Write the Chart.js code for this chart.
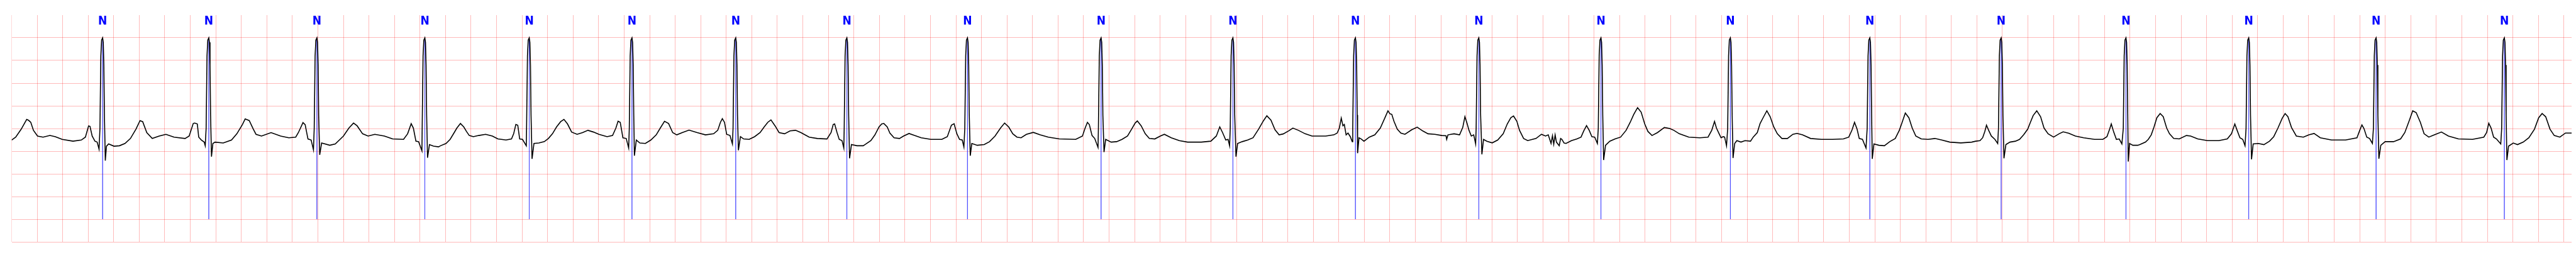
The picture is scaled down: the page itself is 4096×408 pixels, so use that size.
<!DOCTYPE html>
<html>
<head>
<meta charset="utf-8">
<script src="https://cdn.jsdelivr.net/npm/chart.js@4.4.1/dist/chart.umd.min.js"></script>
<style>
  html, body { margin: 0; padding: 0; background: #fff; }
  #wrap { width: 4096px; height: 408px; }
</style>
</head>
<body>
<div id="wrap"><canvas id="ecgChart" width="4096" height="408"></canvas></div>
<script>
// annotated beats (seconds) and their labels
const rPeakTimes = [0.713, 1.545, 2.392, 3.238, 4.056, 4.861, 5.674, 6.545, 7.490, 8.537, 9.570,
    10.530, 11.497, 12.454, 13.468, 14.561, 15.590, 16.568, 17.530, 18.528, 19.533];
const beatLabels = rPeakTimes.map(() => 'N');

// shape of the R spike around each annotation: [dt s, mV]
const qrsShape = [[-0.021, 0.0], [-0.014, 1.6], [-0.008, 1.95], [0, 2.0], [0.005, 1.9], [0.0096, 1.4], [0.014, 0.3]];

// ECG trace read from the strip: [time s, mV] (P, Q, S, T and baseline points)
const ecgTrace = [
    [0.000,-0.254],[0.032,-0.19],[0.075,-0.015],[0.118,0.20],[0.133,0.18],[0.150,0.136],[0.171,-0.04],[0.203,-0.166],[0.246,-0.19],[0.300,-0.154],[0.342,-0.18],[0.396,-0.24],[0.481,-0.28],[0.546,-0.254],[0.578,-0.19],[0.603,0.055],[0.614,0.048],[0.631,-0.166],[0.653,-0.28],[0.670,-0.30],[0.685,-0.456],
    [0.734,-0.708],[0.743,-0.39],[0.760,-0.34],[0.802,-0.39],[0.845,-0.38],[0.888,-0.33],[0.931,-0.22],[0.974,-0.015],[1.006,0.174],[1.027,0.15],[1.059,-0.09],[1.102,-0.22],[1.156,-0.166],[1.209,-0.128],[1.273,-0.19],[1.359,-0.22],[1.391,-0.166],[1.423,0.11],[1.434,0.12],[1.455,0.10],[1.466,-0.19],[1.487,-0.254],[1.509,-0.30],[1.517,-0.38],
    [1.566,-0.62],[1.577,-0.33],[1.594,-0.30],[1.658,-0.32],[1.723,-0.254],[1.765,-0.116],[1.808,0.086],[1.830,0.21],[1.862,0.174],[1.894,-0.015],[1.915,-0.128],[1.958,-0.166],[2.033,-0.09],[2.108,-0.166],[2.172,-0.204],[2.226,-0.19],[2.247,-0.09],[2.283,0.13],[2.300,0.086],[2.322,-0.23],[2.347,-0.254],[2.365,-0.47],
    [2.414,-0.58],[2.429,-0.32],[2.493,-0.37],[2.536,-0.34],[2.600,-0.166],[2.643,0.01],[2.679,0.12],[2.707,0.06],[2.750,-0.116],[2.793,-0.166],[2.846,-0.128],[2.921,-0.166],[2.985,-0.23],[3.071,-0.24],[3.103,-0.116],[3.131,0.106],[3.148,0.01],[3.168,-0.28],[3.189,-0.29],[3.215,-0.49],
    [3.259,-0.645],[3.274,-0.355],[3.306,-0.39],[3.345,-0.405],[3.361,-0.38],[3.404,-0.33],[3.436,-0.24],[3.468,-0.09],[3.489,0.01],[3.517,0.11],[3.543,0.035],[3.564,-0.065],[3.586,-0.154],[3.618,-0.18],[3.660,-0.154],[3.714,-0.128],[3.767,-0.166],[3.810,-0.23],[3.874,-0.254],[3.917,-0.23],[3.934,-0.116],[3.951,0.09],[3.966,0.073],[3.981,-0.23],[4.003,-0.24],[4.033,-0.38],
    [4.078,-0.67],[4.093,-0.33],[4.131,-0.32],[4.174,-0.29],[4.206,-0.22],[4.238,-0.116],[4.270,0.035],[4.302,0.15],[4.328,0.20],[4.356,0.10],[4.388,-0.078],[4.431,-0.128],[4.474,-0.09],[4.516,-0.04],[4.559,-0.078],[4.602,-0.128],[4.666,-0.18],[4.709,-0.154],[4.735,0.01],[4.752,0.16],[4.769,0.136],[4.790,-0.205],[4.816,-0.22],[4.835,-0.43],
    [4.880,-0.60],[4.895,-0.254],[4.923,-0.32],[4.966,-0.33],[5.009,-0.254],[5.051,-0.14],[5.083,0.01],[5.116,0.16],[5.148,0.11],[5.180,-0.09],[5.212,-0.14],[5.255,-0.09],[5.308,-0.035],[5.372,-0.09],[5.437,-0.14],[5.501,-0.116],[5.533,-0.04],[5.554,0.136],[5.569,0.217],[5.586,0.136],[5.603,-0.128],[5.629,-0.154],[5.648,-0.34],
    [5.695,-0.48],[5.711,-0.18],[5.736,-0.23],[5.779,-0.24],[5.822,-0.18],[5.865,-0.09],[5.897,0.035],[5.925,0.136],[5.950,0.19],[5.982,0.06],[6.014,-0.09],[6.057,-0.116],[6.100,-0.053],[6.143,-0.04],[6.185,-0.09],[6.250,-0.19],[6.314,-0.22],[6.389,-0.23],[6.421,-0.09],[6.438,0.09],[6.449,0.10],[6.468,-0.09],[6.485,-0.24],[6.507,-0.267],[6.521,-0.43],
    [6.566,-0.657],[6.581,-0.355],[6.624,-0.38],[6.673,-0.38],[6.690,-0.35],[6.733,-0.267],[6.765,-0.14],[6.797,0.035],[6.818,0.10],[6.835,0.11],[6.861,0.035],[6.882,-0.10],[6.915,-0.204],[6.957,-0.22],[6.989,-0.166],[7.032,-0.11],[7.075,-0.154],[7.128,-0.204],[7.203,-0.24],[7.289,-0.24],[7.332,-0.18],[7.364,0.073],[7.385,0.106],[7.407,-0.116],[7.428,-0.24],[7.449,-0.254],[7.462,-0.405],
    [7.512,-0.60],[7.524,-0.33],[7.567,-0.37],[7.621,-0.355],[7.663,-0.29],[7.706,-0.166],[7.749,0.01],[7.781,0.12],[7.813,0.035],[7.845,-0.116],[7.878,-0.19],[7.910,-0.204],[7.952,-0.128],[8.006,-0.086],[8.059,-0.14],[8.124,-0.19],[8.209,-0.23],[8.338,-0.24],[8.391,-0.166],[8.412,0.01],[8.430,0.136],[8.445,0.086],[8.466,-0.154],[8.487,-0.22],[8.513,-0.418],
    [8.560,-0.52],[8.573,-0.24],[8.616,-0.30],[8.659,-0.29],[8.701,-0.24],[8.744,-0.166],[8.776,-0.015],[8.804,0.12],[8.821,0.166],[8.851,0.06],[8.883,-0.116],[8.915,-0.22],[8.958,-0.23],[9.001,-0.166],[9.033,-0.128],[9.087,-0.204],[9.150,-0.267],[9.215,-0.30],[9.322,-0.30],[9.397,-0.28],[9.440,-0.166],[9.467,0.035],[9.489,-0.09],[9.514,-0.254],[9.532,-0.24],[9.544,-0.38],
    [9.594,-0.62],[9.607,-0.33],[9.643,-0.29],[9.686,-0.254],[9.728,-0.204],[9.771,-0.015],[9.810,0.174],[9.836,0.28],[9.868,0.186],[9.900,-0.028],[9.932,-0.14],[9.964,-0.12],[10.008,-0.05],[10.040,0.01],[10.083,-0.04],[10.136,-0.116],[10.190,-0.166],[10.297,-0.166],[10.361,-0.14],[10.387,-0.10],[10.404,0.01],[10.419,0.23],[10.432,0.06],[10.443,0.09],[10.457,-0.14],[10.472,-0.10],[10.490,-0.18],[10.505,-0.29],
    [10.547,-0.544],[10.558,-0.204],[10.575,-0.23],[10.597,-0.28],[10.639,-0.19],[10.682,-0.14],[10.725,0.01],[10.757,0.21],[10.785,0.39],[10.800,0.325],[10.815,0.312],[10.832,0.16],[10.858,-0.015],[10.886,-0.10],[10.918,-0.128],[10.971,-0.028],[11.014,0.03],[11.057,-0.053],[11.099,-0.116],[11.153,-0.128],[11.207,-0.154],[11.240,-0.16],[11.245,-0.24],[11.255,-0.14],[11.303,-0.116],[11.346,-0.14],[11.371,0.023],[11.388,0.26],[11.405,0.11],[11.420,-0.04],[11.438,-0.166],[11.457,-0.14],[11.472,-0.34],
    [11.521,-0.57],[11.534,-0.24],[11.560,-0.28],[11.602,-0.317],[11.645,-0.254],[11.688,-0.116],[11.720,0.10],[11.748,0.237],[11.769,0.275],[11.795,0.16],[11.816,-0.04],[11.848,-0.22],[11.880,-0.267],[11.945,-0.22],[11.988,-0.128],[12.020,-0.166],[12.041,-0.14],[12.063,-0.33],[12.074,-0.16],[12.084,-0.345],[12.095,-0.14],[12.105,-0.30],[12.127,-0.38],[12.138,-0.22],[12.148,-0.24],[12.165,-0.32],[12.180,-0.33],[12.223,-0.267],[12.266,-0.23],[12.298,-0.19],[12.319,-0.053],[12.341,0.065],[12.362,-0.04],[12.383,-0.18],[12.405,-0.19],[12.426,-0.33],
    [12.475,-0.695],[12.490,-0.37],[12.523,-0.28],[12.565,-0.23],[12.608,-0.19],[12.651,-0.04],[12.683,0.136],[12.711,0.31],[12.741,0.46],[12.769,0.36],[12.797,0.10],[12.822,-0.065],[12.854,-0.154],[12.897,-0.09],[12.951,0.023],[12.993,0.0],[13.025,-0.04],[13.068,-0.116],[13.143,-0.19],[13.229,-0.204],[13.293,-0.19],[13.322,-0.04],[13.344,0.156],[13.359,0.01],[13.380,-0.116],[13.395,-0.204],[13.412,-0.18],[13.423,-0.19],[13.438,-0.38],
    [13.489,-0.65],[13.502,-0.33],[13.519,-0.267],[13.551,-0.30],[13.583,-0.267],[13.626,-0.28],[13.647,-0.19],[13.679,-0.09],[13.701,0.11],[13.727,0.25],[13.754,0.39],[13.780,0.26],[13.808,0.035],[13.836,-0.116],[13.872,-0.22],[13.915,-0.22],[13.958,-0.128],[13.990,-0.108],[14.033,-0.14],[14.097,-0.22],[14.182,-0.24],[14.268,-0.24],[14.354,-0.23],[14.396,-0.19],[14.422,-0.028],[14.441,0.136],[14.461,-0.015],[14.478,-0.22],[14.503,-0.24],[14.531,-0.43],
    [14.580,-0.67],[14.593,-0.34],[14.632,-0.37],[14.675,-0.38],[14.717,-0.29],[14.760,-0.22],[14.792,-0.04],[14.814,0.136],[14.839,0.34],[14.867,0.237],[14.893,0.01],[14.921,-0.166],[14.964,-0.23],[15.017,-0.24],[15.071,-0.22],[15.124,-0.254],[15.188,-0.30],[15.274,-0.317],[15.359,-0.30],[15.391,-0.28],[15.424,-0.267],[15.445,-0.204],[15.462,-0.065],[15.475,0.073],[15.492,-0.04],[15.513,-0.166],[15.541,-0.24],[15.563,-0.33],
    [15.612,-0.657],[15.627,-0.355],[15.659,-0.30],[15.702,-0.28],[15.734,-0.24],[15.766,-0.14],[15.798,-0.015],[15.819,0.136],[15.841,0.287],[15.869,0.39],[15.899,0.26],[15.926,0.01],[15.958,-0.116],[16.001,-0.19],[16.044,-0.116],[16.076,-0.073],[16.119,-0.104],[16.172,-0.166],[16.237,-0.204],[16.322,-0.24],[16.387,-0.24],[16.419,-0.18],[16.440,-0.015],[16.453,0.10],[16.472,-0.078],[16.493,-0.24],[16.515,-0.23],[16.536,-0.34],
    [16.586,-0.73],[16.596,-0.33],[16.622,-0.37],[16.660,-0.37],[16.677,-0.355],[16.721,-0.30],[16.743,-0.24],[16.766,-0.14],[16.788,0.035],[16.810,0.237],[16.836,0.33],[16.860,0.26],[16.887,0.01],[16.909,-0.116],[16.942,-0.22],[16.986,-0.23],[17.042,-0.154],[17.075,-0.166],[17.130,-0.23],[17.207,-0.267],[17.296,-0.267],[17.362,-0.23],[17.395,-0.116],[17.421,0.10],[17.439,-0.04],[17.461,-0.204],[17.483,-0.24],[17.501,-0.38],
    [17.552,-0.68],[17.565,-0.34],[17.605,-0.33],[17.649,-0.355],[17.693,-0.28],[17.726,-0.18],[17.759,0.01],[17.792,0.224],[17.815,0.33],[17.837,0.26],[17.865,0.023],[17.903,-0.166],[17.958,-0.19],[18.002,-0.14],[18.042,-0.11],[18.091,-0.204],[18.179,-0.254],[18.289,-0.254],[18.378,-0.204],[18.400,-0.04],[18.417,0.08],[18.433,0.0],[18.455,-0.19],[18.477,-0.22],[18.499,-0.33],
    [18.550,-0.665],[18.565,-0.37],[18.599,-0.29],[18.665,-0.29],[18.720,-0.23],[18.753,-0.09],[18.786,0.16],[18.815,0.39],[18.842,0.35],[18.875,0.136],[18.904,-0.116],[18.941,-0.19],[18.985,-0.14],[19.040,-0.078],[19.095,-0.166],[19.173,-0.23],[19.283,-0.24],[19.372,-0.19],[19.394,-0.09],[19.411,0.116],[19.429,0.01],[19.449,-0.19],[19.471,-0.23],[19.505,-0.34],
    [19.553,-0.695],[19.566,-0.39],[19.603,-0.32],[19.636,-0.355],[19.681,-0.30],[19.725,-0.204],[19.769,-0.015],[19.802,0.237],[19.829,0.33],[19.857,0.26],[19.891,-0.015],[19.924,-0.154],[19.968,-0.19],[20.012,-0.10],[20.060,-0.10]
];

// axis ranges / grid steps (s, mV)
const xRange = [0, 20.06];
const xStep = 0.2;
const yRange = [-2.5, 2.5];
const yStep = 0.5;
const markerSpan = [2.0, -2.0];   // blue annotation line extent
const labelLevel = 2.296;         // baseline of the "N" text

// merge the trace with an R spike at every annotation
const ecgPoints = ecgTrace.map(([t, v]) => ({ x: t, y: v }));
rPeakTimes.forEach(r => {
    qrsShape.forEach(([dt, v]) => ecgPoints.push({ x: +(r + dt).toFixed(4), y: v }));
});
ecgPoints.sort((a, b) => a.x - b.x);

// vertical annotation lines, separated by gaps
const markerPoints = [];
rPeakTimes.forEach(r => {
    markerPoints.push({ x: r, y: markerSpan[0] }, { x: r, y: markerSpan[1] }, { x: r, y: null });
});

const gridRed = 'rgba(255, 0, 0, 0.27)';

const beatLabelPlugin = {
    id: 'beatLabels',
    afterDatasetsDraw(chart) {
        const { ctx, scales } = chart;
        ctx.save();
        ctx.fillStyle = '#0000ff';
        ctx.font = 'bold 19px "Liberation Sans Narrow", "DejaVu Sans Condensed", "Liberation Sans", sans-serif';
        ctx.textAlign = 'center';
        ctx.textBaseline = 'alphabetic';
        rPeakTimes.forEach((r, i) => {
            ctx.fillText(beatLabels[i], scales.x.getPixelForValue(r), scales.y.getPixelForValue(labelLevel));
        });
        ctx.restore();
    }
};

new Chart(document.getElementById('ecgChart').getContext('2d'), {
    type: 'line',
    data: {
        datasets: [
            {
                label: 'ECG',
                data: ecgPoints,
                borderColor: '#000000',
                borderWidth: 1.6,
                pointRadius: 0,
                tension: 0,
                order: 0
            },
            {
                label: 'annotations',
                data: markerPoints,
                borderColor: 'rgba(0, 0, 255, 0.5)',
                borderWidth: 0.8,
                pointRadius: 0,
                spanGaps: false,
                order: 1
            }
        ]
    },
    options: {
        responsive: false,
        animation: false,
        devicePixelRatio: 1,
        layout: { padding: { left: 18.5, right: 7, top: 24, bottom: 24 } },
        plugins: { legend: { display: false }, tooltip: { enabled: false } },
        events: [],
        scales: {
            x: {
                type: 'linear',
                min: xRange[0],
                max: xRange[1],
                ticks: { display: false, stepSize: xStep, includeBounds: false, autoSkip: false },
                grid: {
                    drawTicks: false,
                    lineWidth: 1,
                    color: ctx => ctx.tick && ctx.tick.value === 0 ? 'rgba(255, 0, 0, 0.15)' : gridRed
                },
                border: { display: false },
                afterFit: scale => { scale.height = 0; }
            },
            y: {
                type: 'linear',
                min: yRange[0],
                max: yRange[1],
                ticks: { display: false, stepSize: yStep, autoSkip: false },
                grid: {
                    drawTicks: false,
                    lineWidth: 1,
                    color: ctx => ctx.tick && ctx.tick.value >= yRange[1] ? 'rgba(0, 0, 0, 0)' : gridRed
                },
                border: { display: false },
                afterFit: scale => { scale.width = 0; }
            }
        }
    },
    plugins: [beatLabelPlugin]
});
</script>
</body>
</html>
